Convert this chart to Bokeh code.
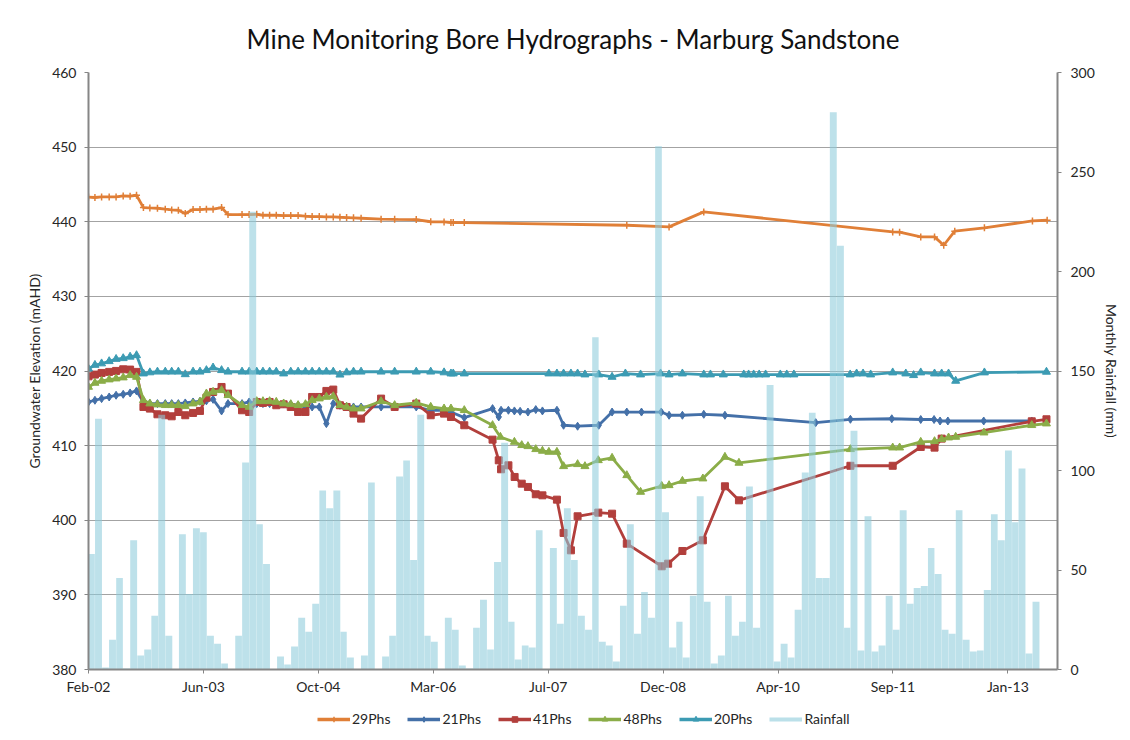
import pandas as pd
from bokeh.plotting import figure
from bokeh.layouts import column
from bokeh.models import (Range1d, LinearAxis, FixedTicker, DatetimeTickFormatter,
                          Legend, LegendItem, ColumnDataSource)
from bokeh.embed import file_html
from bokeh.resources import INLINE

# ---------------- data ----------------
TITLE = "Mine Monitoring Bore Hydrographs - Marburg Sandstone"
AXIS_START = "2002-02-01"
TICK_STEP_DAYS = 500
N_TICKS = 9

# shared early sampling dates (monthly-ish monitoring)
early_dates = ["2002-02-01", "2002-03-01", "2002-03-30", "2002-05-02", "2002-06-01", "2002-07-02",
               "2002-08-01", "2002-08-29", "2002-09-28", "2002-10-26", "2002-11-28", "2003-01-01",
               "2003-01-29", "2003-02-27", "2003-03-29", "2003-05-02", "2003-06-01", "2003-06-29",
               "2003-07-28", "2003-09-03", "2003-10-01", "2003-12-01", "2004-01-01", "2004-02-03",
               "2004-03-01", "2004-03-30", "2004-04-28", "2004-05-30", "2004-06-30", "2004-08-01",
               "2004-09-02", "2004-10-01", "2004-11-01", "2004-12-02", "2005-01-01", "2005-01-30",
               "2005-02-28", "2005-03-30", "2005-05-02", "2005-07-28", "2005-09-25", "2005-12-28",
               "2006-03-01", "2006-04-28"]

# 29Phs
p29_early = [443.3, 443.25, 443.33, 443.33, 443.33, 443.46, 443.42, 443.55,
             441.9, 441.85, 441.81, 441.68, 441.59, 441.54, 441.1, 441.63, 441.63, 441.68, 441.68, 441.9, 440.96,
             440.96, 440.96, 441.0, 440.87, 440.87, 440.87, 440.83, 440.83, 440.83, 440.74, 440.7, 440.7, 440.65,
             440.65, 440.6, 440.56, 440.52, 440.47,
             440.34, 440.32, 440.29, 440.0, 439.98]
p29_late_dates = ["2006-05-28", "2006-06-07", "2006-07-25", "2008-07-01", "2009-01-01", "2009-06-01",
                  "2011-09-01", "2011-10-01", "2012-01-01", "2012-03-01", "2012-04-10", "2012-05-28",
                  "2012-10-04", "2013-05-01", "2013-07-04"]
p29_late = [439.9, 439.9, 439.89, 439.53, 439.31, 441.32, 438.64, 438.6, 437.97, 437.97, 436.85, 438.73,
            439.18, 440.11, 440.2]

# 21Phs
p21_early = [415.85, 416.08, 416.3, 416.52, 416.75, 416.88, 417.06, 417.33,
             415.85, 415.63, 415.63, 415.63, 415.63, 415.63, 415.72, 415.85, 415.94, 416.0, 416.2, 414.65, 415.63,
             415.63, 415.85, 415.63, 415.63, 415.63, 415.63, 415.63, 415.54, 415.41, 415.18, 415.18, 415.18,
             412.95, 415.63, 415.41, 415.27, 415.18, 415.18,
             415.18, 415.18, 415.18, 414.74, 414.74]
p21_late_dates = ["2006-05-28", "2006-07-25", "2006-11-25", "2006-12-22", "2007-01-01", "2007-02-02",
                  "2007-02-28", "2007-03-25", "2007-04-28", "2007-06-01", "2007-06-30", "2007-09-01",
                  "2007-09-30", "2007-11-30", "2008-03-01", "2008-04-28", "2008-07-01", "2008-09-03",
                  "2008-11-28", "2009-01-01", "2009-02-28", "2009-06-01", "2009-09-01", "2010-10-01",
                  "2011-03-01", "2011-08-28", "2012-01-01", "2012-02-28", "2012-03-25", "2012-04-28",
                  "2012-10-01", "2013-04-28"]
p21_late = [414.5, 413.75, 414.96, 413.85, 414.74, 414.74, 414.65, 414.6, 414.5, 414.83, 414.65, 414.74,
            412.73, 412.6, 412.73, 414.5, 414.5, 414.5, 414.5, 414.07, 414.07, 414.2, 414.07, 413.08,
            413.53, 413.6, 413.5, 413.5, 413.3, 413.3, 413.3, 413.3]

# 41Phs
p41_early = [419.29, 419.52, 419.74, 419.88, 420.01, 420.23, 420.19, 419.88,
             415.18, 414.96, 414.2, 414.07, 413.93, 414.51, 414.07, 414.38, 414.65, 416.43, 417.19, 417.86, 416.97,
             414.74, 414.51, 415.85, 415.72, 415.85, 415.41, 415.54, 415.18, 414.51, 414.51, 416.52, 416.52,
             417.33, 417.51, 415.41, 415.18, 414.29, 413.62,
             416.3, 415.18, 415.63, 414.07, 414.29]
p41_late_dates = ["2006-05-28", "2006-07-25", "2006-11-25", "2006-12-22", "2007-01-01", "2007-02-02",
                  "2007-03-01", "2007-04-01", "2007-04-28", "2007-06-01", "2007-06-30", "2007-09-01",
                  "2007-09-30", "2007-11-01", "2007-11-30", "2008-02-28", "2008-04-28", "2008-07-01",
                  "2008-11-30", "2008-12-28", "2009-02-28", "2009-05-28", "2009-09-01", "2009-11-01",
                  "2011-03-01", "2011-09-01", "2012-01-01", "2012-03-01", "2012-04-01", "2013-04-28",
                  "2013-07-01"]
p41_late = [413.84, 412.73, 410.8, 408.03, 406.83, 407.36, 405.8, 404.9, 404.46, 403.48, 403.34, 402.76,
            398.3, 395.97, 400.53, 401.02, 400.88, 396.86, 393.83, 394.18, 395.88, 397.31, 404.55, 402.67,
            407.3, 407.3, 409.82, 409.73, 410.94, 413.26, 413.53]

# 48Phs
p48_early = [417.86, 418.4, 418.67, 418.85, 418.98, 419.12, 419.43, 419.2,
             416.08, 415.63, 415.5, 415.41, 415.41, 415.41, 415.27, 415.63, 415.85, 416.97, 417.19, 417.42, 416.75,
             415.41, 415.18, 415.94, 415.94, 415.94, 415.85, 415.63, 415.54, 415.41, 415.54, 416.08, 416.3,
             416.52, 416.6, 415.41, 415.18, 414.96, 414.96,
             415.94, 415.41, 415.72, 415.18, 414.96]
p48_late_dates = ["2006-05-28", "2006-07-25", "2006-11-25", "2006-12-29", "2007-02-28", "2007-04-01",
                  "2007-04-28", "2007-06-01", "2007-06-30", "2007-07-28", "2007-09-01", "2007-09-30",
                  "2007-11-30", "2008-01-01", "2008-02-28", "2008-04-28", "2008-07-01", "2008-08-30",
                  "2008-11-30", "2009-01-01", "2009-02-28", "2009-05-28", "2009-09-01", "2009-11-01",
                  "2011-03-01", "2011-09-01", "2011-10-01", "2012-01-01", "2012-03-01", "2012-04-01",
                  "2012-05-01", "2012-06-01", "2012-10-02", "2013-04-28", "2013-07-01"]
p48_late = [414.96, 414.74, 412.73, 411.16, 410.49, 410.05, 409.91, 409.51, 409.29, 409.15, 409.15, 407.23,
            407.5, 407.23, 408.03, 408.35, 406.02, 403.79, 404.59, 404.68, 405.26, 405.58, 408.48, 407.68,
            409.51, 409.73, 409.73, 410.49, 410.58, 410.85, 411.07, 411.16, 411.74, 412.73, 412.95]

# 20Phs
p20_early = [420.3, 420.8, 421.0, 421.3, 421.6, 421.7, 421.9, 422.1,
             419.65, 419.8, 419.9, 419.9, 419.9, 419.9, 419.55, 419.9, 419.9, 420.1, 420.45, 420.1, 419.9,
             419.9, 419.9, 419.9, 419.9, 419.9, 419.9, 419.65, 419.9, 419.9, 419.9, 419.9, 419.9, 419.9,
             419.9, 419.5, 419.8, 419.9, 419.9,
             419.9, 419.9, 419.9, 419.9, 419.8]
p20_late_dates = ["2006-05-28", "2006-06-07", "2006-07-25", "2007-07-28", "2007-09-01", "2007-09-30",
                  "2007-11-01", "2007-11-30", "2008-01-01", "2008-03-01", "2008-04-28", "2008-06-25",
                  "2008-08-30", "2008-11-25", "2009-01-01", "2009-02-28", "2009-06-01", "2009-06-30",
                  "2009-08-25", "2009-11-22", "2009-12-13", "2010-01-04", "2010-01-28", "2010-02-25",
                  "2010-04-30", "2010-05-28", "2010-06-28", "2011-02-28", "2011-03-28", "2011-04-25",
                  "2011-05-28", "2011-09-01", "2011-10-28", "2011-12-01", "2012-01-01", "2012-03-01",
                  "2012-04-01", "2012-05-01", "2012-06-01", "2012-10-04", "2013-07-01"]
p20_late = [419.65, 419.65, 419.65, 419.65, 419.65, 419.65, 419.65, 419.65, 419.52, 419.52, 419.2, 419.65,
            419.52, 419.65, 419.52, 419.65, 419.52, 419.52, 419.52, 419.52, 419.52, 419.52, 419.52, 419.52,
            419.52, 419.52, 419.52, 419.52, 419.65, 419.65, 419.52, 419.79, 419.65, 419.43, 419.79, 419.65,
            419.65, 419.65, 418.67, 419.79, 419.88]

# Monthly rainfall (mm), one value per month starting Feb 2002
RAIN_START = "2002-02-01"
rain_mm = [58, 126, 1, 15, 46, 0.5, 65, 7, 10, 27, 128, 17,
           0, 68, 38, 71, 69, 17, 13, 3, 0, 17, 104, 230,
           73, 53, 0, 6.5, 2.5, 11.5, 26, 19, 33, 90, 81, 90,
           19, 6, 0, 7, 94, 0, 6.5, 17, 97, 105, 55, 128,
           17, 14, 0, 26, 20, 2, 0.5, 21, 35, 10, 54, 114,
           24, 5, 12, 11, 70, 0, 61, 23, 81, 55, 27, 20,
           167, 14, 12, 4, 32, 73, 18, 39, 26, 263, 79, 11,
           24, 6, 37, 87, 34, 3, 7, 37, 17, 24, 92, 21,
           75, 143, 4, 13, 6, 30, 99, 129, 46, 46, 280, 213,
           21, 120, 9.5, 77, 9, 12, 37, 20, 80, 33, 41, 42,
           61, 48, 20, 18, 80, 15, 9, 9.5, 40, 78, 65, 110,
           74, 101, 8, 34]

gw_ticks = [380, 390, 400, 410, 420, 430, 440, 450, 460]
rain_ticks = [0, 50, 100, 150, 200, 250, 300]

series_names = ["29Phs", "21Phs", "41Phs", "48Phs", "20Phs"]
colors = {"29Phs": "#E07F37", "21Phs": "#4470A8", "41Phs": "#B23F3C", "48Phs": "#8BAD48", "20Phs": "#3C9BB3"}
markers = {"29Phs": ("cross", 7), "21Phs": ("diamond", 8), "41Phs": ("square", 7),
           "48Phs": ("triangle", 8), "20Phs": ("triangle", 8)}
RAIN_COLOR = "#8ECBDB"

FONT = "Lato"
TEXT = "#262626"
AXIS_GRAY = "#868686"
W = 1122

# ---------------- main figure ----------------
start = pd.Timestamp(AXIS_START)
end = start + pd.Timedelta(days=4216)
tick_ms = [float((start + pd.Timedelta(days=TICK_STEP_DAYS * k)).value // 10**6) for k in range(N_TICKS)]

fig = figure(width=W, height=702, x_axis_type="datetime",
             x_range=Range1d(start.to_pydatetime(), end.to_pydatetime()),
             y_range=Range1d(380, 460),
             output_backend="svg", toolbar_location=None,
             min_border_left=88, min_border_right=W - 1059, min_border_top=72, min_border_bottom=33)
fig.extra_y_ranges = {"rain": Range1d(0, 300)}
fig.outline_line_color = None
fig.background_fill_color = "white"
fig.border_fill_color = "white"

fig.title.text = TITLE
fig.title.align = "center"
fig.title.text_font = FONT
fig.title.text_font_size = "26px"
fig.title.text_font_style = "normal"
fig.title.text_color = "#111111"
fig.title.standoff = 35

fig.xgrid.visible = False
fig.ygrid.ticker = FixedTicker(ticks=gw_ticks)
fig.ygrid.grid_line_color = "#a3a3a3"
fig.ygrid.grid_line_width = 1.2


def style_axis(ax):
    ax.axis_line_color = AXIS_GRAY
    ax.axis_line_width = 2
    ax.major_tick_line_color = AXIS_GRAY
    ax.major_tick_out = 4
    ax.major_tick_in = 0
    ax.minor_tick_line_color = None
    ax.major_label_text_font = FONT
    ax.major_label_text_font_size = "14px"
    ax.major_label_text_color = TEXT
    ax.axis_label_text_font = FONT
    ax.axis_label_text_font_size = "14px"
    ax.axis_label_text_font_style = "normal"
    ax.axis_label_text_color = TEXT


xa = fig.xaxis[0]
xa.ticker = FixedTicker(ticks=tick_ms)
xa.formatter = DatetimeTickFormatter(days="%b-%y", months="%b-%y", years="%b-%y")
style_axis(xa)
xa.major_label_standoff = 4

ya = fig.yaxis[0]
ya.ticker = FixedTicker(ticks=gw_ticks)
style_axis(ya)
ya.axis_label = "Groundwater Elevation (mAHD)"
ya.major_label_standoff = 8
ya.axis_label_standoff = 6

ra = LinearAxis(y_range_name="rain", ticker=FixedTicker(ticks=rain_ticks))
style_axis(ra)
ra.axis_label = "Monthly Rainfall (mm)"
ra.major_label_standoff = 9
ra.axis_label_standoff = 5
fig.add_layout(ra, "right")

series_data = {
    "29Phs": (early_dates + p29_late_dates, p29_early + p29_late),
    "21Phs": (early_dates + p21_late_dates, p21_early + p21_late),
    "41Phs": (early_dates + p41_late_dates, p41_early + p41_late),
    "48Phs": (early_dates + p48_late_dates, p48_early + p48_late),
    "20Phs": (early_dates + p20_late_dates, p20_early + p20_late),
}

for name in series_names:
    d, v = series_data[name]
    mk, sz = markers[name]
    src = ColumnDataSource(dict(x=pd.to_datetime(d), y=v))
    c = colors[name]
    fig.line("x", "y", source=src, line_color=c, line_width=2.8)
    fig.scatter("x", "y", source=src, marker=mk, size=sz, fill_color=c, line_color=c,
                line_width=1.5 if mk == "cross" else 1)

# rainfall bars (drawn last, semi transparent on top)
months = pd.date_range(RAIN_START, periods=len(rain_mm), freq="MS")
nxt = months + pd.offsets.MonthBegin(1)
mid = months + (nxt - months) / 2
widths = list((nxt - months).total_seconds() * 1000 * 0.97)
rsrc = ColumnDataSource(dict(x=mid, top=rain_mm, w=widths))
fig.vbar(x="x", top="top", width="w", bottom=0, source=rsrc, y_range_name="rain",
         fill_color=RAIN_COLOR, fill_alpha=0.58, line_color=None)

# ---------------- legend strip ----------------
leg = figure(width=W, height=30, output_backend="svg", toolbar_location=None,
             x_range=Range1d(0, 1), y_range=Range1d(0, 1),
             min_border_left=0, min_border_right=0, min_border_top=0, min_border_bottom=0)
leg.axis.visible = False
leg.grid.visible = False
leg.outline_line_color = None
OFF = dict(x=[5.0, 6.0], y=[5.0, 6.0])  # placeholder points outside the strip's view
items = []
for name in series_names:
    c = colors[name]
    mk, sz = markers[name]
    lsrc = ColumnDataSource(dict(OFF))
    lr = leg.line("x", "y", source=lsrc, line_color=c, line_width=3.5)
    sr = leg.scatter("x", "y", source=lsrc, marker=mk, size=sz, fill_color=c, line_color=c,
                     line_width=1.5 if mk == "cross" else 1)
    items.append(LegendItem(label=name, renderers=[lr, sr], index=0))
rsrc2 = ColumnDataSource(dict(OFF))
rl = leg.line("x", "y", source=rsrc2, line_color=RAIN_COLOR, line_alpha=0.6, line_width=4)
items.append(LegendItem(label="Rainfall", renderers=[rl], index=0))
legend = Legend(items=items, orientation="horizontal", location=(229, 5),
                label_text_font=FONT, label_text_font_size="14px", label_text_color=TEXT,
                glyph_width=33, glyph_height=14, label_standoff=2, spacing=17,
                padding=2, margin=0, border_line_color=None, background_fill_alpha=0)
leg.add_layout(legend, "center")

p = column(fig, leg, spacing=0)

open("out.html", "w").write(file_html(p, INLINE))
